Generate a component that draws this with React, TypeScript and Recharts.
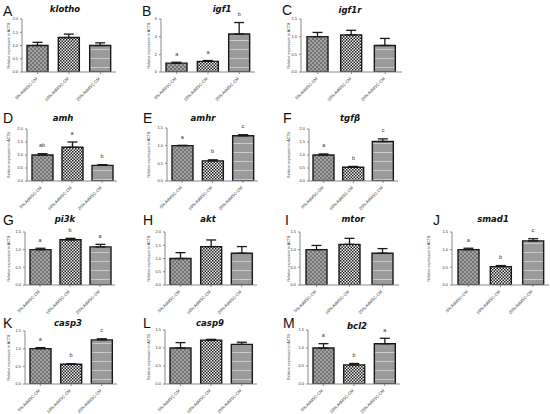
import React from "react";
import { ComposedChart, Bar, Scatter, XAxis, YAxis, ErrorBar, Cell, LabelList } from "recharts";

const groups = ["5% AdMSC-CM", "10% AdMSC-CM", "25% AdMSC-CM"];
const panelLetters = ["A", "B", "C", "D", "E", "F", "G", "H", "I", "J", "K", "L", "M"];
const genes = ["klotho", "igf1", "igf1r", "amh", "amhr", "tgfβ", "pi3k", "akt", "mtor", "smad1", "casp3", "casp9", "bcl2"];
const means = [
  [1.0, 1.3, 1.0],
  [1.0, 1.2, 4.3],
  [1.0, 1.05, 0.75],
  [1.0, 1.3, 0.6],
  [1.0, 0.57, 1.28],
  [1.0, 0.53, 1.52],
  [1.0, 1.28, 1.08],
  [1.0, 1.45, 1.2],
  [1.0, 1.15, 0.9],
  [1.0, 0.52, 1.25],
  [1.0, 0.56, 1.25],
  [1.0, 1.22, 1.1],
  [1.0, 0.53, 1.12],
];
const errors = [
  [0.12, 0.13, 0.1],
  [0.1, 0.1, 1.3],
  [0.12, 0.13, 0.2],
  [0.05, 0.2, 0.03],
  [0.01, 0.03, 0.03],
  [0.04, 0.03, 0.1],
  [0.04, 0.04, 0.07],
  [0.22, 0.25, 0.25],
  [0.12, 0.17, 0.13],
  [0.04, 0.03, 0.06],
  [0.03, 0.01, 0.03],
  [0.15, 0.02, 0.06],
  [0.12, 0.04, 0.15],
];
const sigLetters = [
  ["", "", ""],
  ["a", "a", "b"],
  ["", "", ""],
  ["ab", "a", "b"],
  ["a", "b", "c"],
  ["a", "b", "c"],
  ["a", "b", "a"],
  ["", "", ""],
  ["", "", ""],
  ["a", "b", "c"],
  ["a", "b", "c"],
  ["", "", ""],
  ["a", "b", "a"],
];
const yTicks = [
  [0, 0.5, 1.0, 1.5, 2.0],
  [0, 2, 4, 6],
  [0, 0.5, 1.0, 1.5],
  [0, 0.5, 1.0, 1.5, 2.0],
  [0, 0.5, 1.0, 1.5],
  [0, 0.5, 1.0, 1.5, 2.0],
  [0, 0.5, 1.0, 1.5],
  [0, 0.5, 1.0, 1.5, 2.0],
  [0, 0.5, 1.0, 1.5],
  [0, 0.5, 1.0, 1.5],
  [0, 0.5, 1.0, 1.5],
  [0, 0.5, 1.0, 1.5],
  [0, 0.5, 1.0, 1.5],
];
const yAxisTitle = "Relative expression to ACTB";

// layout: panel left, panel top, y-axis x, x-axis end, plot top, plot bottom, letter x, letter y, title x, title y
const layout = [
  [0, 0, 22, 116, 19, 72, 3, 16, 65, 12],
  [140, 0, 161, 255, 19, 72, 142, 16, 222, 12],
  [280, 0, 301, 402, 19, 72, 282, 15, 350, 13],
  [0, 103, 27, 117, 129, 181, 3, 123, 63, 121],
  [140, 103, 167, 258, 128, 181, 143, 123, 203, 121],
  [280, 103, 309, 398, 129, 181, 283, 123, 350, 121],
  [0, 203, 25, 115, 232, 285, 3, 225, 65, 222],
  [140, 203, 165, 257, 232, 285, 143, 225, 208, 222],
  [280, 203, 300, 399, 232, 285, 285, 225, 353, 222],
  [420, 203, 452, 549, 232, 285, 433, 225, 493, 222],
  [0, 303, 25, 117, 331, 384, 3, 328, 68, 326],
  [140, 303, 165, 257, 330, 384, 143, 328, 210, 326],
  [280, 303, 308, 400, 330, 384, 283, 328, 357, 329],
];

const fills = ["url(#pat1)", "url(#pat2)", "url(#pat3)"];

const XTick = (props: any) => {
  const { x, y, payload } = props;
  const ty = y + 3;
  return (
    <text
      x={x}
      y={ty}
      transform={`rotate(-45 ${x} ${ty})`}
      textAnchor="end"
      fontSize={4.2}
      fill="#333"
      fontFamily="Liberation Sans, Arial, sans-serif"
    >
      {payload.value}
    </text>
  );
};

const fmt = (max: number) => (v: number) => (max > 3 ? String(v) : v.toFixed(1));

function Panel({ i }: { i: number }) {
  const [left, top, axisX, xEnd, plotTop, plotBottom] = layout[i];
  const data = groups.map((g, k) => ({
    g,
    v: means[i][k],
    err: [0, errors[i][k]],
    top: means[i][k] + errors[i][k],
    sig: sigLetters[i][k],
  }));
  const ticks = yTicks[i];
  const max = ticks[ticks.length - 1];
  const xh = 30;
  const width = xEnd - left + 2;
  const height = plotBottom - top + xh;
  return (
    <div style={{ position: "absolute", left, top, width, height }}>
      <ComposedChart
        width={width}
        height={height}
        data={data}
        margin={{ top: plotTop - top, right: 2, left: 0, bottom: 0 }}
        barCategoryGap={0}
      >
        <XAxis
          dataKey="g"
          interval={0}
          height={xh}
          tick={<XTick />}
          tickSize={2}
          stroke="#888"
          tickLine={{ stroke: "#888" }}
        />
        <YAxis
          width={axisX - left}
          domain={[0, max]}
          ticks={ticks}
          tickFormatter={fmt(max)}
          tickSize={2}
          tick={{ fontSize: 4, fill: "#333", fontFamily: "Liberation Sans, Arial, sans-serif" }}
          stroke="#888"
          allowDataOverflow
          label={{
            value: yAxisTitle,
            angle: -90,
            position: "insideLeft",
            offset: 9,
            style: { fontSize: 3.6, textAnchor: "middle", fill: "#333", fontFamily: "Liberation Sans, Arial, sans-serif" },
          }}
        />
        <Bar dataKey="v" barSize={21} stroke="#1a1a1a" strokeWidth={1.4} isAnimationActive={false}>
          {data.map((d, k) => (
            <Cell key={k} fill={fills[k]} />
          ))}
          <ErrorBar dataKey="err" direction="y" width={5} stroke="#1a1a1a" strokeWidth={1.3} />
        </Bar>
        <Scatter dataKey="top" shape={() => <g />} isAnimationActive={false}>
          <LabelList
            dataKey="sig"
            position="top"
            offset={2}
            style={{ fontSize: 5.5, fill: "#333", fontFamily: "Liberation Sans, Arial, sans-serif" }}
          />
        </Scatter>
      </ComposedChart>
    </div>
  );
}

export default function App() {
  return (
    <div style={{ position: "absolute", left: 0, top: 0, width: 550, height: 414, background: "#fff", overflow: "hidden" }}>
      <svg width={0} height={0} style={{ position: "absolute" }}>
        <defs>
          <pattern id="pat1" patternUnits="userSpaceOnUse" width={4} height={4}>
            <rect width={4} height={4} fill="#747474" />
            <rect width={2} height={2} fill="#a2a2a2" />
            <rect x={2} y={2} width={2} height={2} fill="#a2a2a2" />
          </pattern>
          <pattern id="pat2" patternUnits="userSpaceOnUse" width={3} height={3}>
            <rect width={3} height={3} fill="#f2f2f2" />
            <rect width={1.5} height={1.5} fill="#1e1e1e" />
            <rect x={1.5} y={1.5} width={1.5} height={1.5} fill="#1e1e1e" />
          </pattern>
          <pattern id="pat3" patternUnits="userSpaceOnUse" width={4} height={9}>
            <rect width={4} height={9} fill="#9a9a9a" />
            <rect y={4} width={4} height={1} fill="#c9c9c9" />
          </pattern>
        </defs>
      </svg>
      {genes.map((_, i) => (
        <Panel key={i} i={i} />
      ))}
      <svg width={550} height={414} style={{ position: "absolute", left: 0, top: 0, pointerEvents: "none" }}>
        {genes.map((gname, i) => {
          const l = layout[i];
          return (
            <g key={i}>
              <text x={l[6]} y={l[7]} fontSize={14} fill="#111" fontFamily="Liberation Sans, Arial, sans-serif">
                {panelLetters[i]}
              </text>
              <text
                x={l[8]}
                y={l[9]}
                fontSize={8.5}
                fontWeight="bold"
                fontStyle="italic"
                textAnchor="middle"
                fill="#111"
                fontFamily="DejaVu Sans, Verdana, sans-serif"
              >
                {gname}
              </text>
            </g>
          );
        })}
      </svg>
    </div>
  );
}
